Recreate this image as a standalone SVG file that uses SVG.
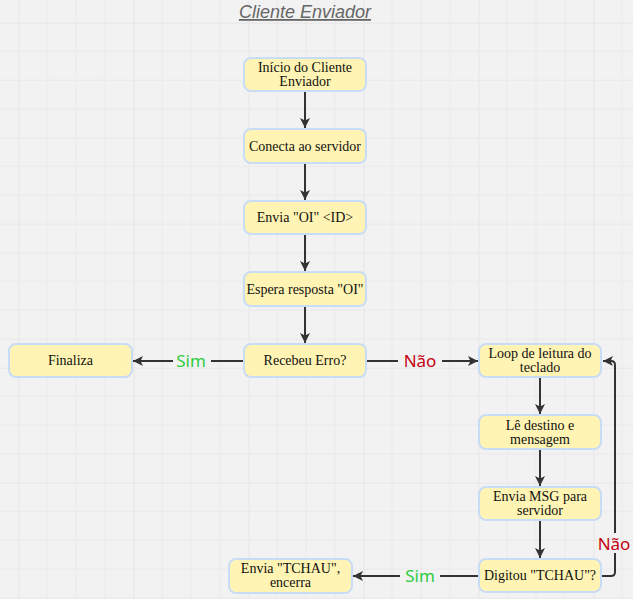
<svg xmlns="http://www.w3.org/2000/svg" width="633" height="599" viewBox="0 0 633 599">
  <defs>
    <pattern id="grid" x="18.5" y="22.7" width="115" height="115" patternUnits="userSpaceOnUse">
      <path d="M28.75 0V115M57.5 0V115M86.25 0V115M0 28.75H115M0 57.5H115M0 86.25H115" stroke="#e9e9e9" stroke-width="1" fill="none"/>
      <path d="M0 0V115M0 0H115" stroke="#e3e3e3" stroke-width="1.5" fill="none"/>
    </pattern>
    <marker id="arr" viewBox="0 0 10 10" refX="10" refY="5" markerWidth="10" markerHeight="10" markerUnits="userSpaceOnUse" orient="auto">
      <path d="M0 0L10 5L0 10L2.5 5Z" fill="#333"/>
    </marker>
    <style>
      .n rect { fill: #fff4b3; stroke: #c8dcf6; stroke-width: 2; }
      .n text { font-family: "Liberation Serif", "DejaVu Serif", serif; font-size: 14px; fill: #111; text-anchor: middle; }
      .c path { fill: none; stroke: #333; stroke-width: 2; }
      .lbl { font-family: "Noto Sans", "Open Sans", sans-serif; font-size: 17px; text-anchor: middle; }
      .yes { fill: #2ecc40; }
      .no { fill: #c40010; }
    </style>
  </defs>
  <rect width="633" height="599" fill="#f2f2f2"/>
  <rect width="633" height="599" fill="url(#grid)"/>

  <text x="305" y="18" font-family="Liberation Sans, Arial, sans-serif" font-size="18" font-style="italic" fill="#666" text-anchor="middle" text-decoration="underline">Cliente Enviador</text>

  <g class="c">
    <path d="M305 91V128" marker-end="url(#arr)"/>
    <path d="M305 163V200" marker-end="url(#arr)"/>
    <path d="M305 234V271" marker-end="url(#arr)"/>
    <path d="M305 306V343" marker-end="url(#arr)"/>
    <path d="M244 361H211"/>
    <path d="M173 361H133" marker-end="url(#arr)"/>
    <path d="M367 361H398"/>
    <path d="M442 361H478" marker-end="url(#arr)"/>
    <path d="M540 378V414" marker-end="url(#arr)"/>
    <path d="M540 450V486" marker-end="url(#arr)"/>
    <path d="M540 521V558" marker-end="url(#arr)"/>
    <path d="M479 576H440"/>
    <path d="M400 576H353" marker-end="url(#arr)"/>
    <path d="M602 576H611Q615 576 615 572V553"/>
    <path d="M615 533V365Q615 361 611 361H603" marker-end="url(#arr)"/>
    <text class="lbl yes" x="191" y="367">Sim</text>
    <text class="lbl no" x="420" y="367">Não</text>
    <text class="lbl yes" x="420" y="582">Sim</text>
    <text class="lbl no" x="614" y="550">Não</text>
  </g>

  <g id="inicio" class="n"><rect x="244" y="58" width="122" height="33" rx="7"/><text x="305" y="72">Início do Cliente</text><text x="305" y="86">Enviador</text></g>
  <g id="conecta" class="n"><rect x="244" y="129" width="122" height="34" rx="7"/><text x="305" y="150.5">Conecta ao servidor</text></g>
  <g id="envia-oi" class="n"><rect x="244" y="201" width="122" height="33" rx="7"/><text x="305" y="222">Envia "OI" &lt;ID&gt;</text></g>
  <g id="espera" class="n"><rect x="244" y="272" width="122" height="34" rx="7"/><text x="305" y="293.5">Espera resposta "OI"</text></g>
  <g id="recebeu" class="n"><rect x="244" y="344" width="122" height="33" rx="7"/><text x="305" y="365">Recebeu Erro?</text></g>
  <g id="finaliza" class="n"><rect x="9" y="344" width="123" height="33" rx="7"/><text x="70.5" y="365">Finaliza</text></g>
  <g id="loop" class="n"><rect x="479" y="344" width="122" height="33" rx="7"/><text x="540" y="358">Loop de leitura do</text><text x="540" y="372">teclado</text></g>
  <g id="le" class="n"><rect x="479" y="415" width="122" height="34" rx="7"/><text x="540" y="429.5">Lê destino e</text><text x="540" y="444">mensagem</text></g>
  <g id="envia-msg" class="n"><rect x="479" y="487" width="122" height="33" rx="7"/><text x="540" y="501">Envia MSG para</text><text x="540" y="515">servidor</text></g>
  <g id="digitou" class="n"><rect x="479" y="559" width="122" height="33" rx="7"/><text x="540" y="580">Digitou "TCHAU"?</text></g>
  <g id="envia-tchau" class="n"><rect x="229" y="559" width="123" height="34" rx="7"/><text x="290.5" y="573">Envia "TCHAU",</text><text x="290.5" y="587">encerra</text></g>
</svg>
